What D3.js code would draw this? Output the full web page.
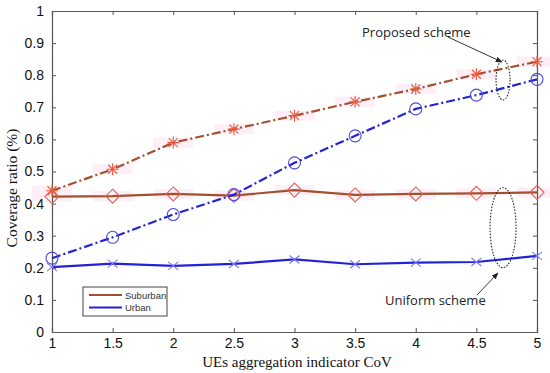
<!DOCTYPE html>
<html>
<head>
<meta charset="utf-8">
<script src="https://cdn.jsdelivr.net/npm/d3@7"></script>
<style>
  body { margin: 0; background: #fff; }
  svg { display: block; }
</style>
</head>
<body>
<div id="grafica"></div>
<script>
// datos
const cov = [1, 1.5, 2, 2.5, 3, 3.5, 4, 4.5, 5];
const propuestoSuburbano = [0.44, 0.507, 0.59, 0.632, 0.674, 0.717, 0.757, 0.803, 0.842];
const propuestoUrbano = [0.23, 0.295, 0.366, 0.428, 0.527, 0.611, 0.695, 0.738, 0.787];
const uniformeSuburbano = [0.422, 0.423, 0.43, 0.425, 0.442, 0.427, 0.43, 0.432, 0.435];
const uniformeUrbano = [0.202, 0.213, 0.206, 0.212, 0.226, 0.211, 0.216, 0.218, 0.237];
const xTicks = [1, 1.5, 2, 2.5, 3, 3.5, 4, 4.5, 5];
const yTicks = [0, 0.1, 0.2, 0.3, 0.4, 0.5, 0.6, 0.7, 0.8, 0.9, 1];
const leyenda = ["Suburban", "Urban"];

const width = 550, height = 373;
const m = {left: 52, right: 13, top: 11, bottom: 41};

let svg = d3.select("#grafica").append("svg")
    .attr("width", width)
    .attr("height", height);

const x = d3.scaleLinear().domain([1, 5]).range([m.left, width - m.right]);
const y = d3.scaleLinear().domain([0, 1]).range([height - m.bottom, m.top]);

const marron = "#a3502c";
const azul = "#2323d6";

// bandas rosas detras de las curvas suburbanas
[propuestoSuburbano, uniformeSuburbano].forEach(serie => {
  svg.append("g").selectAll("rect")
    .data(cov)
    .join("rect")
    .attr("x", (d, i) => x(d) - 20)
    .attr("y", (d, i) => y(serie[i]) - 5)
    .attr("width", 40)
    .attr("height", 10)
    .attr("fill", "#fdeef7");
});

// ejes
const gx = svg.append("g")
    .attr("transform", `translate(0,${height - m.bottom})`)
    .call(d3.axisBottom(x).tickValues(xTicks).tickSize(-4).tickPadding(6).tickFormat(d3.format("")));
const gy = svg.append("g")
    .attr("transform", `translate(${m.left},0)`)
    .call(d3.axisLeft(y).tickValues(yTicks).tickSize(-4).tickPadding(8).tickFormat(d3.format("")));
const gt = svg.append("g")
    .attr("transform", `translate(0,${m.top})`)
    .call(d3.axisTop(x).tickValues(xTicks).tickSize(-4).tickFormat(""));
const gr = svg.append("g")
    .attr("transform", `translate(${width - m.right},0)`)
    .call(d3.axisRight(y).tickValues(yTicks).tickSize(-4).tickFormat(""));

[gx, gy, gt, gr].forEach(g => {
  g.select(".domain").attr("stroke", "#555").attr("stroke-width", 1.2);
  g.selectAll(".tick line").attr("stroke", "#555");
  g.selectAll(".tick text")
    .attr("fill", "#111")
    .style("font-family", "Liberation Sans, Arial, sans-serif")
    .style("font-size", "14px");
});

const linea = serie => d3.line().x((d, i) => x(cov[i])).y(d => y(d))(serie);

const series = [
  {datos: uniformeSuburbano, color: marron, dash: null, marca: "diamante", colorMarca: "#e0634f"},
  {datos: uniformeUrbano, color: azul, dash: null, marca: "equis", colorMarca: "#7b7bf0"},
  {datos: propuestoUrbano, color: azul, dash: "9,3,2,3", marca: "circulo", colorMarca: "#4a4ae0"},
  {datos: propuestoSuburbano, color: marron, dash: "9,3,2,3", marca: "asterisco", colorMarca: "#ef5a3c"}
];

series.forEach(s => {
  svg.append("path")
    .attr("d", linea(s.datos))
    .attr("fill", "none")
    .attr("stroke", s.color)
    .attr("stroke-width", 2.2)
    .attr("stroke-dasharray", s.dash);

  let g = svg.append("g").selectAll("g")
    .data(s.datos)
    .join("g")
    .attr("transform", (d, i) => `translate(${x(cov[i])},${y(d)})`)
    .attr("fill", "none")
    .attr("stroke", s.colorMarca)
    .attr("stroke-width", 1.1);

  if (s.marca == "diamante") {
    g.append("path").attr("d", "M0,-7L7,0L0,7L-7,0Z");
  } else if (s.marca == "equis") {
    g.append("path").attr("d", "M-5,-4L5,4M-5,4L5,-4");
  } else if (s.marca == "circulo") {
    g.append("circle").attr("r", 6);
  } else {
    g.append("path").attr("d", "M-6,0L6,0M0,-6L0,6M-4.5,-4.5L4.5,4.5M-4.5,4.5L4.5,-4.5");
  }
});

// elipses y anotaciones
svg.append("ellipse")
  .attr("cx", x(4.72)).attr("cy", y(0.785)).attr("rx", 7).attr("ry", 20)
  .attr("fill", "none").attr("stroke", "#222").attr("stroke-width", 1.1)
  .attr("stroke-dasharray", "1.5,1.5");
svg.append("ellipse")
  .attr("cx", x(4.72)).attr("cy", y(0.325)).attr("rx", 13) .attr("ry", 40)
  .attr("fill", "none").attr("stroke", "#222").attr("stroke-width", 1.1)
  .attr("stroke-dasharray", "1.5,1.5");

svg.append("defs").append("marker")
  .attr("id", "flecha")
  .attr("viewBox", "0 0 10 10")
  .attr("refX", 9).attr("refY", 5)
  .attr("markerWidth", 7).attr("markerHeight", 7)
  .attr("orient", "auto")
  .append("path").attr("d", "M0,1L10,5L0,9Z").attr("fill", "#222");

svg.append("line")
  .attr("x1", 448).attr("y1", 37).attr("x2", 502).attr("y2", 62)
  .attr("stroke", "#333").attr("stroke-width", 1)
  .attr("marker-end", "url(#flecha)");
svg.append("line")
  .attr("x1", 477).attr("y1", 295).attr("x2", 498).attr("y2", 273)
  .attr("stroke", "#333").attr("stroke-width", 1)
  .attr("marker-end", "url(#flecha)");

svg.append("text")
  .attr("x", 362).attr("y", 37)
  .style("font-family", "Open Sans, sans-serif").style("font-size", "13px")
  .attr("fill", "#222")
  .text("Proposed scheme");
svg.append("text")
  .attr("x", 385).attr("y", 305)
  .style("font-family", "Open Sans, sans-serif").style("font-size", "13px")
  .attr("fill", "#222")
  .text("Uniform scheme");

// leyenda
let ley = svg.append("g").attr("transform", "translate(83,287)");
ley.append("rect").attr("width", 84).attr("height", 29)
  .attr("fill", "#fff").attr("stroke", "#444").attr("stroke-width", 1);
ley.selectAll(".item")
  .data(leyenda)
  .join("g")
  .attr("class", "item")
  .attr("transform", (d, i) => `translate(0,${8 + i * 12.5})`)
  .each(function(d, i) {
    let g = d3.select(this);
    g.append("line").attr("x1", 6).attr("x2", 39).attr("y1", 0).attr("y2", 0)
      .attr("stroke", i == 0 ? marron : azul).attr("stroke-width", 2);
    g.append("text").attr("x", 42).attr("y", 3.5)
      .style("font-family", "Liberation Sans, Arial, sans-serif").style("font-size", "9.5px")
      .attr("fill", "#333")
      .text(d);
  });

// titulos de ejes
svg.append("text")
  .attr("x", 297).attr("y", 367)
  .attr("text-anchor", "middle")
  .style("font-family", "Liberation Serif, Times New Roman, serif").style("font-size", "15px")
  .attr("fill", "#111")
  .text("UEs aggregation indicator CoV");
svg.append("text")
  .attr("transform", "translate(17,188) rotate(-90)")
  .attr("text-anchor", "middle")
  .style("font-family", "Liberation Serif, Times New Roman, serif").style("font-size", "15.5px")
  .attr("fill", "#111")
  .text("Coverage ratio (%)");
</script>
</body>
</html>
